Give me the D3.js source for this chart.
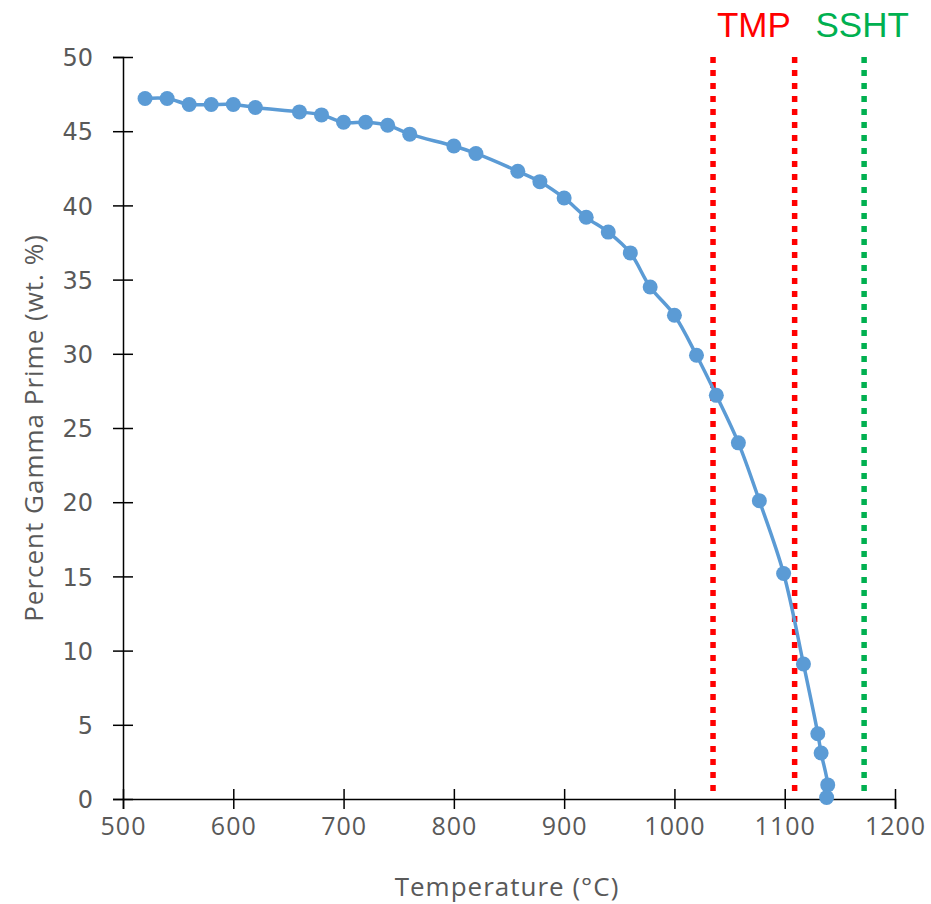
<!DOCTYPE html>
<html>
<head>
<meta charset="utf-8">
<script src="https://cdn.jsdelivr.net/npm/d3@7"></script>
<style>
    body { margin: 0; background: #fff; }
    svg { display: block; }
</style>
</head>
<body>
<div id="chart"></div>
<script>
// temperature (C) and gamma prime content (wt. %)
const temps = [520, 540, 560, 580, 600, 620, 660, 680, 700, 720, 740, 760, 800, 820, 858, 878,
    900, 920, 940, 960, 978, 1000, 1020, 1038, 1058, 1077, 1099, 1117, 1130, 1133, 1139, 1138];
const gamma = [47.2, 47.2, 46.8, 46.8, 46.8, 46.6, 46.3, 46.1, 45.6, 45.6, 45.4, 44.8, 44.0, 43.5, 42.3, 41.6,
    40.5, 39.2, 38.2, 36.8, 34.5, 32.6, 29.9, 27.2, 24.0, 20.1, 15.2, 9.1, 4.4, 3.1, 0.95, 0.1];

// reference lines
const refNames = ["TMP", "TMP", "SSHT"];
const refTemps = [1035, 1109, 1172];
const refColors = ["#FF0000", "#FF0000", "#00B050"];
const refRange = [0.5, 50];

const xTicks = [500, 600, 700, 800, 900, 1000, 1100, 1200];
const yTicks = [0, 5, 10, 15, 20, 25, 30, 35, 40, 45, 50];

const W = 931, H = 904;
const margin = { top: 57, right: 36, bottom: 105, left: 123 };

const svg = d3.select("#chart").append("svg")
    .attr("width", W)
    .attr("height", H);

const x = d3.scaleLinear().domain([500, 1200]).range([margin.left, W - margin.right]);
const y = d3.scaleLinear().domain([0, 50]).range([H - margin.bottom, margin.top]);

const grey = "#595959";

// X axis
const gx = svg.append("g")
    .attr("transform", `translate(0, ${y(0)})`)
    .call(d3.axisBottom(x).tickValues(xTicks).tickFormat(d3.format("d")).tickSizeOuter(0).tickSize(10));
gx.select(".domain").attr("stroke", "#000").attr("stroke-width", 1.5);
gx.selectAll(".tick line").attr("stroke", "#000").attr("stroke-width", 1.5).attr("y1", -10).attr("y2", 10);
gx.selectAll(".tick text")
    .attr("y", 36)
    .attr("dy", 0)
    .attr("fill", grey)
    .style("font-family", "'Open Sans', sans-serif")
    .style("font-size", "25px")
    .style("letter-spacing", "1px");

// Y axis
const gy = svg.append("g")
    .attr("transform", `translate(${x(500)}, 0)`)
    .call(d3.axisLeft(y).tickValues(yTicks).tickSizeOuter(0).tickSize(10));
gy.select(".domain").attr("stroke", "#000").attr("stroke-width", 1.5);
gy.selectAll(".tick line").attr("stroke", "#000").attr("stroke-width", 1.5).attr("x1", -10).attr("x2", 10);
gy.selectAll(".tick text")
    .attr("x", -30)
    .attr("dy", "0.36em")
    .attr("fill", grey)
    .style("font-family", "'DejaVu Sans', sans-serif")
    .style("font-size", "24px");

// axis titles
svg.append("text")
    .attr("x", (x(500) + x(1200)) / 2 - 2)
    .attr("y", 896)
    .attr("text-anchor", "middle")
    .attr("fill", grey)
    .style("font-family", "'Open Sans', sans-serif")
    .style("font-size", "26px")
    .style("letter-spacing", "1px")
    .text("Temperature (°C)");

svg.append("text")
    .attr("transform", `translate(43, ${(y(0) + y(50)) / 2}) rotate(-90)`)
    .attr("text-anchor", "middle")
    .attr("fill", grey)
    .style("font-family", "'Open Sans', sans-serif")
    .style("font-size", "26px")
    .style("letter-spacing", "1px")
    .text("Percent Gamma Prime (wt. %)");

// dotted reference lines
refTemps.forEach((t, i) => {
    svg.append("line")
        .attr("x1", x(t)).attr("x2", x(t))
        .attr("y1", y(refRange[1])).attr("y2", y(refRange[0]))
        .attr("stroke", refColors[i])
        .attr("stroke-width", 5.5)
        .attr("stroke-dasharray", "6,7");
});

// labels above the lines
svg.append("text")
    .attr("x", (x(refTemps[0]) + x(refTemps[1])) / 2)
    .attr("y", 37)
    .attr("text-anchor", "middle")
    .attr("fill", refColors[0])
    .style("font-family", "'Liberation Sans', Arial, sans-serif")
    .style("font-size", "35px")
    .text(refNames[0]);
svg.append("text")
    .attr("x", x(refTemps[2]) - 2)
    .attr("y", 37)
    .attr("text-anchor", "middle")
    .attr("fill", refColors[2])
    .style("font-family", "'Liberation Sans', Arial, sans-serif")
    .style("font-size", "35px")
    .text(refNames[2]);

// the series
const pts = temps.map((t, i) => [t, gamma[i]]);
const line = d3.line()
    .x(d => x(d[0]))
    .y(d => y(d[1]))
    .curve(d3.curveCatmullRom.alpha(0.5));

svg.append("path")
    .datum(pts)
    .attr("fill", "none")
    .attr("stroke", "#5B9BD5")
    .attr("stroke-width", 3.5)
    .attr("d", line);

svg.selectAll("circle.pt")
    .data(pts)
    .join("circle")
    .attr("class", "pt")
    .attr("cx", d => x(d[0]))
    .attr("cy", d => y(d[1]))
    .attr("r", 7.5)
    .attr("fill", "#5B9BD5");
</script>
</body>
</html>
